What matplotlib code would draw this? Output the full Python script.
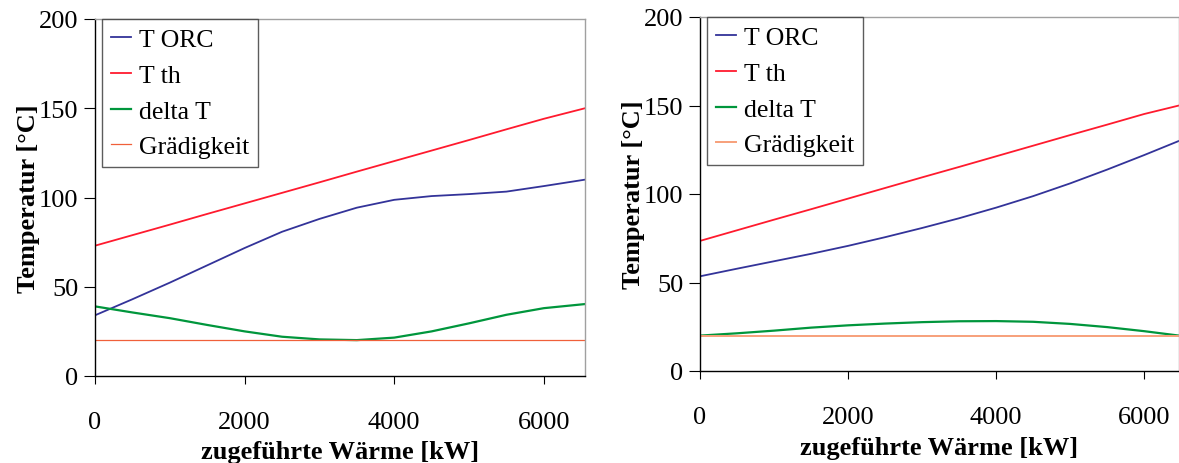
import numpy as np
import matplotlib.pyplot as plt

plt.rcParams['font.family'] = ['Liberation Serif', 'DejaVu Serif']

# ---- data ----
q_left = [0, 500, 1000, 1500, 2000, 2500, 3000, 3500, 4000, 4500, 5000, 5500, 6000, 6550]
t_th_left = [73, 78.9, 84.8, 90.8, 96.7, 102.6, 108.5, 114.5, 120.4, 126.3, 132.2, 138.2, 144.1, 150]
t_orc_left = [34, 43, 52.3, 62, 71.7, 80.8, 88.0, 94.3, 98.7, 100.8, 101.9, 103.3, 106.4, 110]
delta_left = [39, 35.6, 32.4, 28.6, 25, 22, 20.5, 20.1, 21.5, 25, 29.5, 34.3, 38, 40.3]
graed_left = [20] * len(q_left)

q_right = [0, 500, 1000, 1500, 2000, 2500, 3000, 3500, 4000, 4500, 5000, 5500, 6000, 6470]
t_th_right = [73.5, 79.5, 85.5, 91.4, 97.4, 103.4, 109.4, 115.3, 121.3, 127.3, 133.3, 139.2, 145.2, 150]
t_orc_right = [53.5, 57.8, 62, 66.2, 70.7, 75.6, 80.8, 86.3, 92.3, 98.8, 106, 113.8, 122, 130]
delta_right = [20, 21.3, 22.8, 24.5, 25.8, 26.8, 27.6, 28.1, 28.2, 27.8, 26.6, 24.8, 22.5, 20]
graed_right = [20] * len(q_right)

labels = ['T ORC', 'T th', 'delta T', 'Grädigkeit']


def style_axes(ax, xmax, xlab_y, ylab_x):
    ax.set_xlim(0, xmax)
    ax.set_ylim(0, 200)
    ax.set_xticks([0, 2000, 4000, 6000])
    ax.set_yticks([0, 50, 100, 150, 200])
    for s in ['left', 'bottom']:
        ax.spines[s].set_color('black')
        ax.spines[s].set_linewidth(1.0)
    for s in ['top', 'right']:
        ax.spines[s].set_color('#a0a0a0')
        ax.spines[s].set_linewidth(1.0)
    ax.tick_params(axis='x', direction='out', length=6, pad=19, labelsize=19)
    ax.tick_params(axis='y', direction='out', length=8, pad=4, labelsize=19)
    ax.set_xlabel('zugeführte Wärme [kW]', fontsize=19, fontweight='bold')
    ax.set_ylabel('Temperatur [°C]', fontsize=19, fontweight='bold')
    ax.xaxis.set_label_coords(0.5, xlab_y)
    ax.yaxis.set_label_coords(ylab_x, 0.5)


fig = plt.figure(figsize=(11.79, 4.64), dpi=100)

ax1 = fig.add_axes([95 / 1179, 1 - 377 / 464, 490 / 1179, 357 / 464])
ax1.plot(q_left, t_orc_left, color='#333399', lw=1.3, label=labels[0])
ax1.plot(q_left, t_th_left, color='#ff1a2e', lw=1.3, label=labels[1])
ax1.plot(q_left, delta_left, color='#00963c', lw=1.6, label=labels[2])
ax1.plot(q_left, graed_left, color='#f0603a', lw=0.9, label=labels[3])
style_axes(ax1, 6550, -0.18, -0.112)

ax2 = fig.add_axes([700 / 1179, 1 - 372 / 464, 479 / 1179, 354 / 464])
ax2.plot(q_right, t_orc_right, color='#333399', lw=1.3, label=labels[0])
ax2.plot(q_right, t_th_right, color='#ff1a2e', lw=1.3, label=labels[1])
ax2.plot(q_right, delta_right, color='#00963c', lw=1.6, label=labels[2])
ax2.plot(q_right, graed_right, color='#f7a07a', lw=1.4, label=labels[3])
style_axes(ax2, 6470, -0.185, -0.115)

for ax in (ax1, ax2):
    leg = ax.legend(loc='upper left', bbox_to_anchor=(0.014, 1.0), fontsize=18.5,
                    frameon=True, fancybox=False, handlelength=0.8,
                    handletextpad=0.3, borderpad=0.35, labelspacing=0.5,
                    borderaxespad=0.0)
    leg.get_frame().set_edgecolor('#333333')
    leg.get_frame().set_linewidth(1.0)

fig.savefig('out.png', dpi=100)
